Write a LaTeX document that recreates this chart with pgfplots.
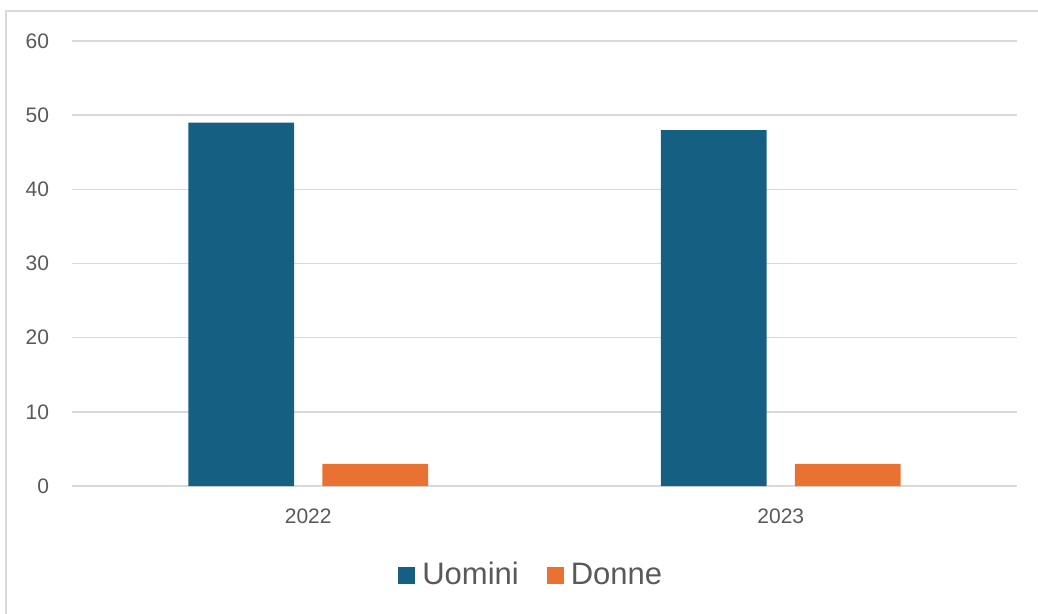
\documentclass[border=0pt]{standalone}
\usepackage{fontspec}
\setmainfont{Liberation Sans}
\usepackage{pgfplots}
\pgfplotsset{compat=1.18}

\definecolor{uomini}{HTML}{156082}
\definecolor{donne}{HTML}{E97132}
\definecolor{gridc}{HTML}{D9D9D9}
\definecolor{txt}{HTML}{595959}

\begin{document}
\begin{tikzpicture}
% 1 px of the reference = 0.5bp
\clip (0,0) rectangle (519bp,-307bp);
\draw[gridc, line width=1bp] (3bp,-5.5bp) rectangle (530bp,-320bp);
\begin{axis}[
  at={(36bp,-243bp)}, anchor=south west,
  scale only axis,
  width=472.5bp, height=222.5bp,
  xmin=-0.5, xmax=1.5,
  ymin=0, ymax=60,
  ytick={0,10,...,60},
  xtick={0,1},
  xticklabels={2022,2023},
  axis line style={draw=none},
  major tick length=0pt,
  ymajorgrids,
  grid style={gridc, line width=0.75bp},
  tick label style={font=\fontsize{10.5bp}{12bp}\selectfont, text=txt},
  /pgf/number format/assume math mode=true,
  yticklabel style={xshift=-8bp},
  xticklabel style={yshift=-8bp},
  legend columns=2,
  legend style={draw=none, at={(0.487,-0.2)}, anchor=center,
    font=\fontsize{15.5bp}{17bp}\selectfont, text=txt,
    /tikz/every even column/.append style={column sep=12bp}},
  legend image code/.code={\fill[#1] (0bp,-4.25bp) rectangle (8.5bp,4.25bp);},
  legend cell align=left,
]
\addplot[ybar, bar width=0.2243, bar shift=-0.1418, fill=uomini, draw=none]
  coordinates {(0,49) (1,48)};
\addlegendentry{\hspace{1.5bp}Uomini}
\addplot[ybar, bar width=0.2243, bar shift=0.1418, fill=donne, draw=none]
  coordinates {(0,3) (1,3)};
\addlegendentry{\hspace{1.5bp}Donne}
\end{axis}
\end{tikzpicture}
\end{document}
